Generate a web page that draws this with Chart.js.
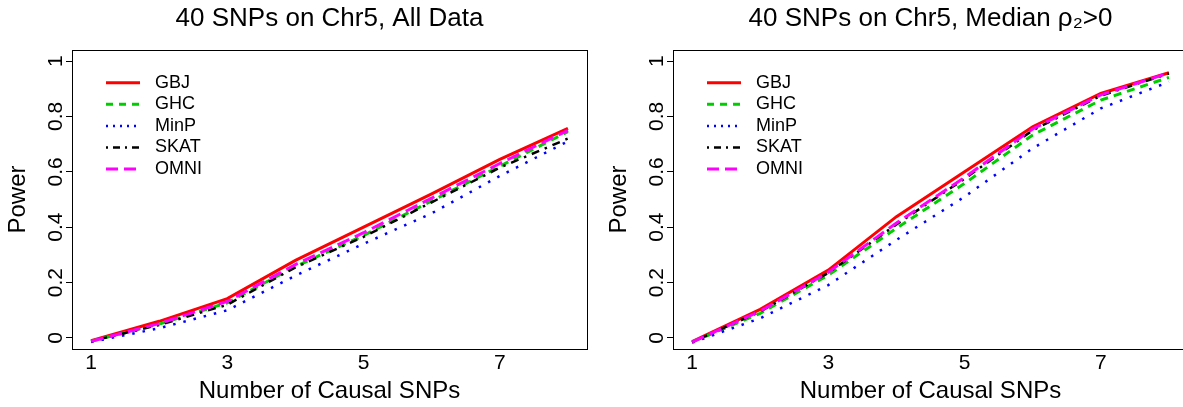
<!DOCTYPE html>
<html lang="en">
<head>
<meta charset="UTF-8">
<title>Power vs Number of Causal SNPs</title>
<script src="https://cdn.jsdelivr.net/npm/chart.js"></script>
<style>
  html, body { margin: 0; padding: 0; background: #fff; overflow: hidden; }
  .panel { position: absolute; top: 0; width: 595px; height: 407px; }
</style>
</head>
<body>
<div class="panel" style="left:0"><canvas id="chartAll" width="595" height="407"></canvas></div>
<div class="panel" style="left:601px"><canvas id="chartMedian" width="595" height="407"></canvas></div>

<script>
// data
const causalSnps = [1, 2, 3, 4, 5, 6, 7, 8];
const xTickValues = [1, 3, 5, 7];
const yTickValues = [0, 0.2, 0.4, 0.6, 0.8, 1];
const yTickLabels = ['0', '0.2', '0.4', '0.6', '0.8', '1'];
const methodNames = ['GBJ', 'GHC', 'MinP', 'SKAT', 'OMNI'];

// left panel: all data
const allGBJ  = [-0.010, 0.060, 0.142, 0.280, 0.400, 0.520, 0.645, 0.757];
const allGHC  = [-0.012, 0.050, 0.127, 0.258, 0.370, 0.495, 0.620, 0.745];
const allMinP = [-0.015, 0.035, 0.100, 0.225, 0.340, 0.450, 0.585, 0.710];
const allSKAT = [-0.012, 0.047, 0.120, 0.255, 0.365, 0.490, 0.615, 0.720];
const allOMNI = [-0.012, 0.052, 0.132, 0.265, 0.380, 0.505, 0.630, 0.750];

// right panel: median rho2 > 0
const medGBJ  = [-0.013, 0.103, 0.245, 0.438, 0.600, 0.763, 0.883, 0.958];
const medGHC  = [-0.015, 0.089, 0.227, 0.396, 0.558, 0.733, 0.859, 0.941];
const medMinP = [-0.017, 0.071, 0.191, 0.354, 0.510, 0.685, 0.829, 0.925];
const medSKAT = [-0.015, 0.095, 0.235, 0.410, 0.575, 0.750, 0.875, 0.955];
const medOMNI = [-0.015, 0.097, 0.237, 0.415, 0.580, 0.755, 0.878, 0.957];

// line styles (R lty 1..5)
const lineColors = ['#ff0000', '#00cd00', '#0000ff', '#000000', '#ff00ff'];
const lineDashes = [[], [8, 6], [2.5, 8], [2.5, 6, 8, 6], [13, 6]];
const legendDashes = [[], [7, 6], [2, 5], [2, 5, 7, 5], [12, 6]];
const lineWidths = [3, 3, 2.5, 2.5, 3];

const FONT = '"Liberation Sans", Arial, Helvetica, sans-serif';

// box around the plot region
const plotBox = {
  id: 'plotBox',
  afterDraw(chart) {
    const { ctx, chartArea: a } = chart;
    ctx.save();
    ctx.strokeStyle = '#000';
    ctx.lineWidth = 1;
    ctx.strokeRect(Math.round(a.left) + 0.5, Math.round(a.top) + 0.5,
      Math.round(a.right - a.left), Math.round(a.bottom - a.top));
    ctx.restore();
  }
};

// legend drawn inside the plot, no frame
const innerLegend = {
  id: 'innerLegend',
  afterDatasetsDraw(chart) {
    const { ctx, chartArea: a } = chart;
    ctx.save();
    ctx.font = '18px ' + FONT;
    ctx.textBaseline = 'middle';
    chart.data.datasets.forEach((ds, i) => {
      const y = a.top + 32.7 + i * 21.6;
      ctx.beginPath();
      ctx.strokeStyle = ds.borderColor;
      ctx.lineWidth = ds.borderWidth;
      ctx.setLineDash(legendDashes[i]);
      ctx.moveTo(a.left + 34, y);
      ctx.lineTo(a.left + 68, y);
      ctx.stroke();
      ctx.setLineDash([]);
      ctx.fillStyle = '#000';
      ctx.fillText(ds.label, a.left + 83, y);
    });
    ctx.restore();
  }
};

function makePanel(canvasId, titleText, seriesList) {
  const datasets = seriesList.map((vals, i) => ({
    label: methodNames[i],
    data: causalSnps.map((x, k) => ({ x: x, y: vals[k] })),
    borderColor: lineColors[i],
    borderWidth: lineWidths[i],
    borderDash: lineDashes[i],
    borderCapStyle: 'butt',
    pointRadius: 0,
    tension: 0,
    fill: false,
    order: methodNames.length - i // OMNI drawn last (on top)
  }));

  return new Chart(document.getElementById(canvasId), {
    type: 'line',
    data: { datasets: datasets },
    options: {
      responsive: false,
      animation: false,
      layout: { padding: { left: 0, right: 8, top: 0, bottom: 0 } },
      plugins: {
        legend: { display: false },
        tooltip: { enabled: false },
        title: {
          display: true,
          text: titleText,
          fullSize: false,
          color: '#000',
          font: { family: FONT, size: 26, weight: 'normal' },
          padding: { top: 2.9, bottom: 15.9 }
        }
      },
      scales: {
        x: {
          type: 'linear',
          min: 0.72,
          max: 8.28,
          afterBuildTicks: (s) => { s.ticks = xTickValues.map(v => ({ value: v })); },
          afterFit: (s) => { s.height = 58; },
          grid: { display: false },
          border: { display: false },
          ticks: {
            color: '#000',
            font: { family: FONT, size: 21 },
            padding: -6,
            maxRotation: 0,
            autoSkip: false,
            callback: (v) => String(v)
          },
          title: {
            display: true,
            text: 'Number of Causal SNPs',
            color: '#000',
            font: { family: FONT, size: 24 },
            padding: { top: 0, bottom: 1 }
          }
        },
        y: {
          type: 'linear',
          min: -0.04,
          max: 1.04,
          afterBuildTicks: (s) => { s.ticks = yTickValues.map(v => ({ value: v })); },
          afterFit: (s) => { s.width = 72; },
          grid: {
            display: true,
            drawOnChartArea: false,
            drawTicks: true,
            tickLength: 6,
            tickColor: '#000',
            tickWidth: 1
          },
          border: { display: false },
          ticks: {
            color: '#000',
            font: { family: FONT, size: 21 },
            minRotation: 90,
            maxRotation: 90,
            crossAlign: 'center',
            padding: -5,
            autoSkip: false,
            callback: (v) => yTickLabels[yTickValues.indexOf(v)]
          },
          title: {
            display: true,
            text: 'Power',
            color: '#000',
            font: { family: FONT, size: 24 },
            padding: { top: 4, bottom: 0 }
          }
        }
      }
    },
    plugins: [plotBox, innerLegend]
  });
}

makePanel('chartAll', '40 SNPs on Chr5, All Data',
  [allGBJ, allGHC, allMinP, allSKAT, allOMNI]);
makePanel('chartMedian', '40 SNPs on Chr5, Median \u03C1\u2082>0',
  [medGBJ, medGHC, medMinP, medSKAT, medOMNI]);
</script>
</body>
</html>
